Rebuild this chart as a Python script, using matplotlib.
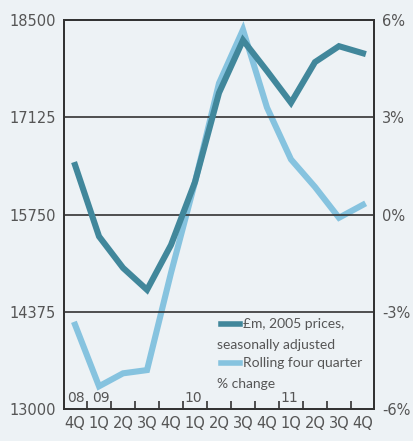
import matplotlib
matplotlib.use("Agg")
import matplotlib.pyplot as plt
from matplotlib.lines import Line2D

quarters = ["4Q", "1Q", "2Q", "3Q", "4Q", "1Q", "2Q", "3Q", "4Q", "1Q", "2Q", "3Q", "4Q"]
years = {0: "08", 1: "09", 5: "10", 9: "11"}
level = [16450, 15440, 14995, 14685, 15320, 16210, 17470, 18215, 17780, 17330, 17905, 18130, 18030]
change = [-3.4, -5.3, -4.9, -4.8, -1.8, 1.0, 4.05, 5.7, 3.3, 1.7, 0.85, -0.1, 0.3]

left_ticks = [13000, 14375, 15750, 17125, 18500]
right_ticks = [-6, -3, 0, 3, 6]

BG = "#edf2f5"
DARK = "#41879b"
LIGHT = "#86c3df"
TXT = "#555555"

plt.rcParams["font.family"] = ["DejaVu Sans"]

fig = plt.figure(figsize=(4.14, 4.41), dpi=100)
fig.patch.set_facecolor(BG)
ax = fig.add_axes([0.1546, 0.0726, 0.7488, 0.882])
ax.set_facecolor(BG)
ax2 = ax.twinx()

x = list(range(len(quarters)))
ax2.plot(x, change, color=LIGHT, lw=4.4, solid_joinstyle="miter", zorder=2)
ax.plot(x, level, color=DARK, lw=4.4, solid_joinstyle="miter", zorder=3)
ax.set_zorder(ax2.get_zorder() + 1)
ax.patch.set_visible(False)
ax2.patch.set_visible(True)
ax2.patch.set_facecolor(BG)

ax.set_xlim(-0.46, 12.46)
ax.set_ylim(13000, 18500)
ax2.set_ylim(-6, 6)

for v in left_ticks[1:-1]:
    ax.axhline(v, color="#333333", lw=1.2, zorder=1)

ax.set_yticks(left_ticks)
ax.set_yticklabels([str(v) for v in left_ticks])
ax2.set_yticks(right_ticks)
ax2.set_yticklabels([f"{v}%" for v in right_ticks])
ax.tick_params(axis="y", length=0, pad=6, labelsize=10.5, labelcolor=TXT)
ax2.tick_params(axis="y", length=0, pad=6, labelsize=10.5, labelcolor=TXT)

ax.set_xticks(x)
ax.set_xticklabels(quarters)
ax.tick_params(axis="x", length=0, pad=5, labelsize=10.5, labelcolor=TXT)
ax.set_xticks([i + 0.5 for i in x[:-1]], minor=True)
ax.tick_params(axis="x", which="minor", direction="in", length=6, width=1.2, color="#333333")

# year markers sit just inside the bottom axis, next to the quarter ticks
year_offsets = {0: (0.42, "right"), 1: (-0.3, "left"), 5: (-0.42, "left"), 9: (-0.42, "left")}
for i, y in years.items():
    dx, ha = year_offsets[i]
    ax.text(i + dx, 13060, y, fontsize=10, color=TXT, ha=ha, va="bottom")

for a in (ax, ax2):
    for s in a.spines.values():
        s.set_color("#333333")
        s.set_linewidth(1.4)

# legend drawn by hand so the second line wraps under the swatch
tr = ax.transAxes
def px(xp, yp):
    return ((xp - 64) / 310, (409 - yp) / 389)

LEG_FONT = ["Lato", "DejaVu Sans"]
for yp, col, l1, l2, y2 in [(324, DARK, "£m, 2005 prices,", "seasonally adjusted", 345),
                            (363, LIGHT, "Rolling four quarter", "% change", 384)]:
    x0, y0 = px(221, yp)
    x1, _ = px(240, yp)
    ax.add_line(Line2D([x0, x1], [y0, y0], transform=tr, color=col, lw=4, zorder=5))
    tx, ty = px(243, yp)
    ax.text(tx, ty, l1, transform=tr, fontsize=10, color=TXT, va="center", ha="left",
            family=LEG_FONT)
    tx, ty = px(217, y2)
    ax.text(tx, ty, l2, transform=tr, fontsize=10, color=TXT, va="center", ha="left",
            family=LEG_FONT)

fig.savefig("out.png", dpi=100, facecolor=BG)
